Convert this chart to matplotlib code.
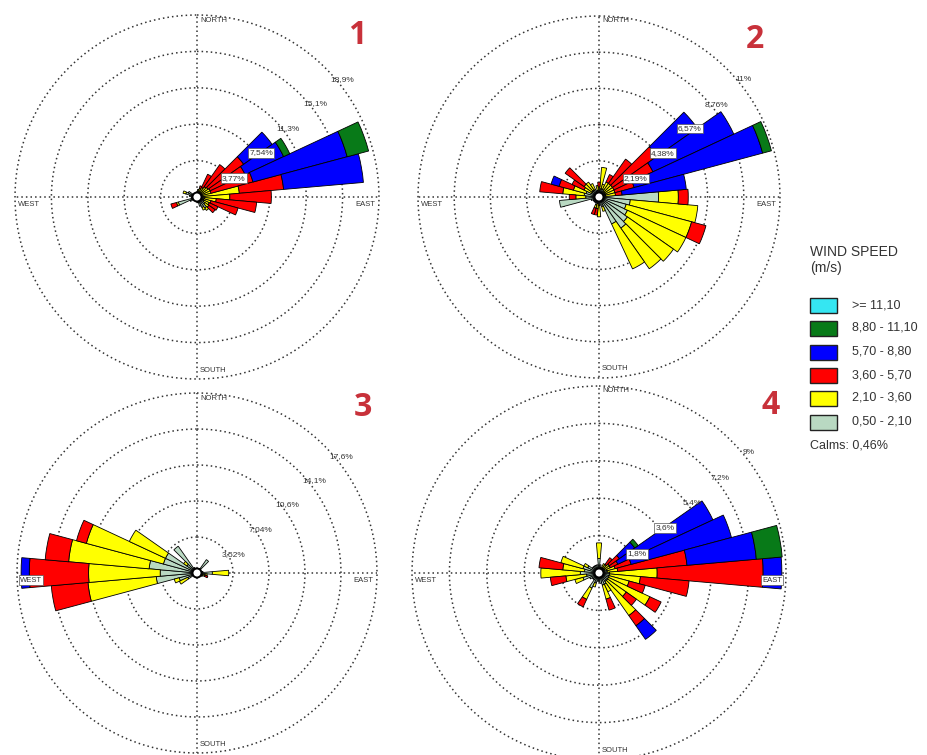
import numpy as np
import matplotlib.pyplot as plt
from matplotlib.patches import Circle, Rectangle

plt.rcParams['font.family'] = ['Liberation Sans', 'DejaVu Sans']

# wind speed classes (m/s), innermost first
speed_labels = ['0,50 - 2,10', '2,10 - 3,60', '3,60 - 5,70',
                '5,70 - 8,80', '8,80 - 11,10', '>= 11,10']
speed_colors = ['#b9d9c2', '#ffff00', '#ff0000', '#0000ff', '#087a18', '#35e6f2']
calms_text = 'Calms: 0,46%'

# frequency (%) per 10 degree sector: bearing, then one value per speed class
rose1 = [
    [0, 0.5, 0, 0, 0, 0, 0],
    [10, 0.6, 0.2, 0, 0, 0, 0],
    [20, 0.5, 0.4, 0.3, 0, 0, 0],
    [30, 0.5, 0.6, 1.5, 0, 0, 0],
    [40, 0.5, 0.8, 2.8, 0, 0, 0],
    [50, 0.5, 0.9, 4.5, 3.6, 0, 0],
    [60, 0.5, 1.0, 4.0, 4.4, 0.7, 0],
    [70, 0.5, 1.0, 4.5, 10.1, 2.3, 0],
    [80, 0.6, 3.8, 4.6, 8.3, 0, 0],
    [90, 0.8, 2.6, 4.3, 0, 0, 0],
    [100, 0.8, 1.2, 4.2, 0, 0, 0],
    [110, 0.7, 0.8, 2.9, 0, 0, 0],
    [120, 0.8, 0.6, 1.0, 0, 0, 0],
    [130, 1.0, 0.5, 0.8, 0, 0, 0],
    [140, 1.4, 0.3, 0, 0, 0, 0],
    [150, 1.2, 0.3, 0, 0, 0, 0],
    [160, 1.0, 0, 0, 0, 0, 0],
    [170, 0.6, 0, 0, 0, 0, 0],
    [180, 0.4, 0, 0, 0, 0, 0],
    [190, 0.4, 0, 0, 0, 0, 0],
    [200, 0.4, 0, 0, 0, 0, 0],
    [210, 0.4, 0, 0, 0, 0, 0],
    [220, 0.4, 0, 0, 0, 0, 0],
    [230, 0.4, 0, 0, 0, 0, 0],
    [240, 0.8, 0, 0, 0, 0, 0],
    [250, 2.0, 0.2, 0.6, 0, 0, 0],
    [260, 0.6, 0, 0, 0, 0, 0],
    [270, 0.5, 0, 0, 0, 0, 0],
    [280, 0.8, 0, 0, 0, 0, 0],
    [290, 1.2, 0.3, 0, 0, 0, 0],
    [300, 1.0, 0, 0, 0, 0, 0],
    [310, 0.4, 0, 0, 0, 0, 0],
    [320, 0.4, 0, 0, 0, 0, 0],
    [330, 0.4, 0, 0, 0, 0, 0],
    [340, 0.4, 0, 0, 0, 0, 0],
    [350, 0.4, 0, 0, 0, 0, 0],
]

rose2 = [
    [0, 0.4, 0.2, 0.3, 0, 0, 0],
    [10, 0.5, 1.3, 0, 0, 0, 0],
    [20, 0.5, 0.3, 0, 0, 0, 0],
    [30, 0.5, 0.5, 0.5, 0, 0, 0],
    [40, 0.4, 0.6, 1.8, 0, 0, 0],
    [50, 0.4, 0.6, 3.3, 2.96, 0, 0],
    [60, 0.4, 0.6, 2.6, 5.4, 0, 0],
    [70, 0.4, 0.6, 1.2, 8.05, 0.55, 0],
    [80, 0.4, 0.6, 0.4, 3.9, 0, 0],
    [90, 3.6, 1.2, 0.6, 0, 0, 0],
    [100, 1.9, 4.1, 0, 0, 0, 0],
    [110, 1.7, 4.1, 0.9, 0, 0, 0],
    [120, 1.9, 3.9, 0, 0, 0, 0],
    [130, 2.1, 3.4, 0, 0, 0, 0],
    [140, 2.3, 3.0, 0, 0, 0, 0],
    [150, 1.8, 3.0, 0, 0, 0, 0],
    [160, 0.6, 0.3, 0, 0, 0, 0],
    [170, 0.5, 0, 0, 0, 0, 0],
    [180, 0.5, 0.7, 0, 0, 0, 0],
    [190, 0.4, 0.3, 0.4, 0, 0, 0],
    [200, 0.5, 0.2, 0.4, 0, 0, 0],
    [210, 0.4, 0, 0, 0, 0, 0],
    [220, 0.4, 0, 0, 0, 0, 0],
    [230, 0.4, 0, 0, 0, 0, 0],
    [240, 0.4, 0, 0, 0, 0, 0],
    [250, 0.5, 0, 0, 0, 0, 0],
    [260, 2.4, 0, 0, 0, 0, 0],
    [270, 0.8, 0.6, 0.4, 0, 0, 0],
    [280, 0.9, 1.3, 1.4, 0, 0, 0],
    [290, 0.8, 0.8, 0.9, 0.5, 0, 0],
    [300, 0.5, 0.5, 0.8, 0, 0, 0],
    [310, 0.5, 0.6, 1.4, 0, 0, 0],
    [320, 0.5, 0.6, 0, 0, 0, 0],
    [330, 0.5, 0.4, 0, 0, 0, 0],
    [340, 0.4, 0, 0, 0, 0, 0],
    [350, 0.4, 0.3, 0, 0, 0, 0],
]

rose3 = [
    [0, 0.4, 0, 0, 0, 0, 0],
    [10, 0.3, 0, 0, 0, 0, 0],
    [20, 0.3, 0, 0, 0, 0, 0],
    [30, 0.5, 0, 0, 0, 0, 0],
    [40, 1.6, 0, 0, 0, 0, 0],
    [50, 0.4, 0, 0, 0, 0, 0],
    [60, 0.4, 0, 0, 0, 0, 0],
    [70, 0.4, 0, 0, 0, 0, 0],
    [80, 0.6, 0, 0, 0, 0, 0],
    [90, 1.5, 1.6, 0, 0, 0, 0],
    [100, 0.8, 0.2, 0, 0, 0, 0],
    [110, 0.6, 0.2, 0.3, 0, 0, 0],
    [120, 0.6, 0, 0, 0, 0, 0],
    [130, 0.3, 0, 0, 0, 0, 0],
    [140, 0.3, 0, 0, 0, 0, 0],
    [150, 0.3, 0, 0, 0, 0, 0],
    [160, 0.3, 0, 0, 0, 0, 0],
    [170, 0.3, 0, 0, 0, 0, 0],
    [180, 0.3, 0, 0, 0, 0, 0],
    [190, 0.3, 0, 0, 0, 0, 0],
    [200, 0.3, 0, 0, 0, 0, 0],
    [210, 0.3, 0, 0, 0, 0, 0],
    [220, 0.3, 0, 0, 0, 0, 0],
    [230, 0.3, 0, 0, 0, 0, 0],
    [240, 1.0, 0.9, 0, 0, 0, 0],
    [250, 1.8, 0.5, 0, 0, 0, 0],
    [260, 4.0, 6.7, 3.6, 0, 0, 0],
    [270, 3.6, 7.0, 5.8, 0.8, 0, 0],
    [280, 4.7, 7.9, 2.3, 0, 0, 0],
    [290, 3.4, 7.8, 1.0, 0, 0, 0],
    [300, 3.4, 3.9, 0, 0, 0, 0],
    [310, 1.2, 0.4, 0, 0, 0, 0],
    [320, 3.2, 0, 0, 0, 0, 0],
    [330, 0.6, 0, 0, 0, 0, 0],
    [340, 0.5, 0, 0, 0, 0, 0],
    [350, 0.4, 0, 0, 0, 0, 0],
]

rose4 = [
    [0, 0.7, 0.75, 0, 0, 0, 0],
    [10, 0.4, 0, 0, 0, 0, 0],
    [20, 0.3, 0, 0, 0, 0, 0],
    [30, 0.3, 0.2, 0, 0, 0, 0],
    [40, 0.3, 0.2, 0.4, 0, 0, 0],
    [50, 0.3, 0.3, 0.6, 0.9, 0.2, 0],
    [60, 0.3, 0.3, 0.4, 5.05, 0, 0],
    [70, 0.4, 0.4, 0.8, 5.0, 0, 0],
    [80, 0.4, 0.5, 3.35, 3.35, 1.25, 0],
    [90, 0.5, 2.3, 5.1, 0.9, 0, 0],
    [100, 0.5, 1.5, 2.35, 0, 0, 0],
    [110, 0.5, 1.0, 0.8, 0, 0, 0],
    [120, 0.5, 2.2, 0.6, 0, 0, 0],
    [130, 0.5, 1.1, 0.6, 0, 0, 0],
    [140, 0.5, 2.0, 0.6, 0.8, 0, 0],
    [150, 0.6, 0.4, 0, 0, 0, 0],
    [160, 0.6, 0.7, 0.55, 0, 0, 0],
    [170, 0.5, 0, 0, 0, 0, 0],
    [180, 0.4, 0, 0, 0, 0, 0],
    [190, 0.4, 0, 0, 0, 0, 0],
    [200, 0.5, 0.2, 0, 0, 0, 0],
    [210, 0.8, 0.6, 0.4, 0, 0, 0],
    [220, 0.4, 0, 0, 0, 0, 0],
    [230, 0.4, 0, 0, 0, 0, 0],
    [240, 0.5, 0, 0, 0, 0, 0],
    [250, 0.8, 0.4, 0, 0, 0, 0],
    [260, 0.6, 1.0, 0.75, 0, 0, 0],
    [270, 0.9, 1.9, 0, 0, 0, 0],
    [280, 0.7, 1.05, 1.15, 0, 0, 0],
    [290, 0.8, 1.1, 0, 0, 0, 0],
    [300, 0.6, 0.2, 0, 0, 0, 0],
    [310, 0.4, 0, 0, 0, 0, 0],
    [320, 0.4, 0, 0, 0, 0, 0],
    [330, 0.4, 0, 0, 0, 0, 0],
    [340, 0.4, 0, 0, 0, 0, 0],
    [350, 0.4, 0, 0, 0, 0, 0],
]

# ring spacing (%) and ring labels of each rose
ring_steps = [3.77, 2.19, 3.52, 1.8]
ring_labels = [
    ['3,77%', '7,54%', '11,3%', '15,1%', '18,9%'],
    ['2,19%', '4,38%', '6,57%', '8,76%', '11%'],
    ['3,52%', '7,04%', '10,6%', '14,1%', '17,6%'],
    ['1,8%', '3,6%', '5,4%', '7,2%', '9%'],
]
rose_names = ['1', '2', '3', '4']

# layout in pixels
W, H = 927, 755
centers = [(197, 197), (599, 197), (197, 573), (599, 573)]
radii = [182, 181, 180, 187]
number_pos = [(357, 36), (755, 40), (363, 408), (771, 406)]
# which ring labels sit on a bar and get a white box
label_boxed = [[1, 1, 0, 0, 0], [1, 1, 1, 0, 0], [0, 0, 0, 0, 0], [1, 1, 0, 0, 0]]
west_boxed = [0, 0, 1, 0]
east_boxed = [0, 0, 0, 1]

grid_style = dict(color='#333333', lw=1.1, ls=(0, (1, 2)), clip_on=False, zorder=1)
txt_color = '#333333'

fig = plt.figure(figsize=(W / 100, H / 100), dpi=100)


def draw_rose(rows, step, labels, boxed, cx, cy, R):
    ax = fig.add_axes([(cx - R) / W, (H - cy - R) / H, 2 * R / W, 2 * R / H],
                      projection='polar')
    rmax = 5 * step
    ax.set_theta_zero_location('N')
    ax.set_theta_direction(-1)
    ax.set_ylim(0, rmax)
    ax.grid(False)
    ax.set_xticks([])
    ax.set_yticks([])
    ax.spines['polar'].set_visible(False)

    # dotted rings and the N-S / E-W cross
    t = np.linspace(0, 2 * np.pi, 500)
    for k in range(1, 6):
        ax.plot(t, np.full_like(t, k * step), **grid_style)
    for a in [0, np.pi / 2, np.pi, 3 * np.pi / 2]:
        ax.plot([a, a], [0, rmax], **grid_style)

    # stacked sectors
    arr = np.array(rows, dtype=float)
    theta = np.deg2rad(arr[:, 0])
    bottom = np.zeros(len(arr))
    for j, col in enumerate(speed_colors):
        h = arr[:, j + 1]
        m = h > 0
        if m.any():
            ax.bar(theta[m], h[m], width=np.deg2rad(10), bottom=bottom[m],
                   color=col, edgecolor='black', linewidth=0.6, zorder=3)
        bottom += h

    # ring labels
    off = 5 / R * rmax
    for k, (lab, b) in enumerate(zip(labels, boxed), start=1):
        bb = None
        if b:
            bb = dict(boxstyle='square,pad=0.15', fc='white', ec='#555555', lw=0.5)
        ax.text(np.deg2rad(48 + 15 / k), k * step + off, lab, fontsize=6,
                ha='center', va='center', color=txt_color, zorder=6, bbox=bb)

    # calms circle in the middle
    ax.add_patch(Circle((0.5, 0.5), 4.5 / (2 * R), transform=ax.transAxes,
                        fc='white', ec='black', lw=1.4, zorder=7))
    return ax


for i in range(4):
    cx, cy = centers[i]
    draw_rose([rose1, rose2, rose3, rose4][i], ring_steps[i], ring_labels[i],
              label_boxed[i], cx, cy, radii[i])

# overlay in pixel coordinates for compass names, numbers and legend
ov = fig.add_axes([0, 0, 1, 1])
ov.set_xlim(0, W)
ov.set_ylim(H, 0)
ov.axis('off')

box = dict(boxstyle='square,pad=0.15', fc='white', ec='#555555', lw=0.5)
for i in range(4):
    cx, cy = centers[i]
    R = radii[i]
    ov.text(cx + 3, cy - R + 5, 'NORTH', fontsize=5.5, color=txt_color, va='center')
    ov.text(cx + 3, cy + R - 9, 'SOUTH', fontsize=5.5, color=txt_color, va='center')
    ov.text(cx - R + 3, cy + 7, 'WEST', fontsize=5.5, color=txt_color, va='center',
            bbox=box if west_boxed[i] else None)
    ov.text(cx + R - 4, cy + 7, 'EAST', fontsize=5.5, color=txt_color, va='center',
            ha='right', bbox=box if east_boxed[i] else None)
    nx, ny = number_pos[i]
    ov.text(nx, ny, rose_names[i], fontsize=23, fontweight='bold', color='#c8313a',
            ha='center', va='center', family=['Open Sans', 'DejaVu Sans'])

# legend
ov.text(810, 252, 'WIND SPEED', fontsize=10, color=txt_color, va='center')
ov.text(810, 268, '(m/s)', fontsize=10, color=txt_color, va='center')
legend_y = [305, 328, 352, 375, 398, 422]
for yc, lab, col in zip(legend_y, speed_labels[::-1], speed_colors[::-1]):
    ov.add_patch(Rectangle((810, yc - 7.5), 27, 15, fc=col, ec='#222222', lw=1))
    ov.text(852, yc, lab, fontsize=9, color=txt_color, va='center')
ov.text(810, 445, calms_text, fontsize=9, color=txt_color, va='center')

fig.savefig('out.png', dpi=100)
